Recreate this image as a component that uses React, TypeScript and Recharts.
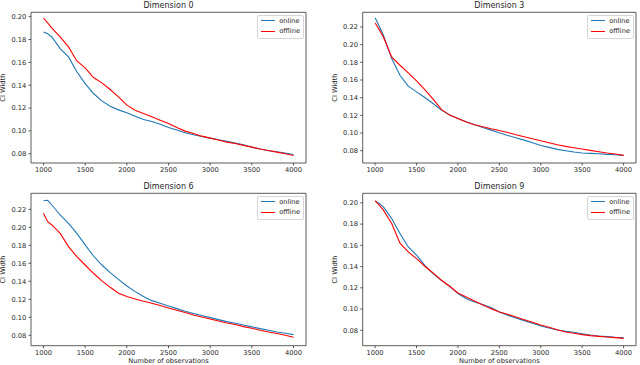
import React from 'react';
import { LineChart, Line, XAxis, YAxis, Legend, ReferenceArea, Label } from 'recharts';

// number of observations (x positions of the sampled points)
const observations = [
  1000, 1050, 1100, 1200, 1300, 1400, 1500, 1600, 1700, 1800, 1900, 2000, 2100, 2200, 2300, 2400,
  2500, 2600, 2700, 2800, 2900, 3000, 3100, 3200, 3300, 3400, 3500, 3600, 3700, 3800, 3900, 4000,
];
const xTicks = [1000, 1500, 2000, 2500, 3000, 3500, 4000];
const seriesNames = ['online', 'offline'];

const dim0Online = [
  0.1866, 0.1851, 0.1822, 0.172, 0.1648, 0.1517, 0.1414, 0.1327, 0.1263, 0.1216, 0.1184, 0.1158, 0.1129, 0.11, 0.1082, 0.1059,
  0.103, 0.1007, 0.0983, 0.0966, 0.0951, 0.0937, 0.0922, 0.0908, 0.0893, 0.0879, 0.0858, 0.0841, 0.0826, 0.0817, 0.0806, 0.0794,
];
const dim0Offline = [
  0.1988, 0.1945, 0.19, 0.1822, 0.1735, 0.1612, 0.1551, 0.1467, 0.142, 0.1362, 0.1298, 0.1225, 0.1181, 0.1152, 0.1123, 0.1094,
  0.1065, 0.103, 0.0998, 0.0978, 0.0954, 0.0937, 0.092, 0.0902, 0.089, 0.0873, 0.0858, 0.0841, 0.0829, 0.0814, 0.08, 0.0785,
];
const dim3Online = [
  0.2305, 0.2208, 0.2106, 0.1842, 0.1654, 0.153, 0.1466, 0.1402, 0.1334, 0.1259, 0.1203, 0.1165, 0.1127, 0.1093, 0.1063, 0.1033,
  0.1003, 0.0973, 0.0947, 0.092, 0.089, 0.086, 0.0838, 0.0815, 0.08, 0.0785, 0.0774, 0.077, 0.0766, 0.0759, 0.0755, 0.0747,
];
const dim3Offline = [
  0.2245, 0.217, 0.2087, 0.1861, 0.1767, 0.1681, 0.159, 0.1492, 0.1383, 0.1267, 0.1203, 0.1165, 0.1124, 0.1093, 0.1071, 0.1048,
  0.1029, 0.1007, 0.0981, 0.0958, 0.0935, 0.0913, 0.089, 0.0868, 0.0849, 0.0834, 0.0819, 0.0804, 0.0789, 0.0774, 0.0762, 0.0747,
];
const dim6Online = [
  0.2296, 0.23, 0.2248, 0.2137, 0.2044, 0.1933, 0.1804, 0.1681, 0.1581, 0.1496, 0.1422, 0.1348, 0.1285, 0.123, 0.1185, 0.1156,
  0.1126, 0.1096, 0.1067, 0.1041, 0.1019, 0.0996, 0.0974, 0.0952, 0.0933, 0.0915, 0.0893, 0.0874, 0.0856, 0.0837, 0.0822, 0.0807,
];
const dim6Offline = [
  0.2156, 0.2063, 0.2026, 0.1933, 0.1785, 0.1674, 0.1581, 0.1489, 0.1404, 0.1333, 0.1267, 0.123, 0.1204, 0.1178, 0.1156, 0.113,
  0.1104, 0.1078, 0.1052, 0.1026, 0.1004, 0.0981, 0.0959, 0.0937, 0.0919, 0.0896, 0.0878, 0.0856, 0.0837, 0.0819, 0.08, 0.0778,
];
const dim9Online = [
  0.2019, 0.1994, 0.1962, 0.1852, 0.1711, 0.1585, 0.1507, 0.1412, 0.1334, 0.1271, 0.1215, 0.1146, 0.1098, 0.1067, 0.1042, 0.1014,
  0.0973, 0.0941, 0.0916, 0.0891, 0.0866, 0.0841, 0.0822, 0.0803, 0.079, 0.0781, 0.0768, 0.0756, 0.0746, 0.074, 0.0734, 0.0731,
];
const dim9Offline = [
  0.2019, 0.1978, 0.1931, 0.1805, 0.162, 0.1538, 0.1475, 0.1403, 0.134, 0.1271, 0.1215, 0.1152, 0.1114, 0.1076, 0.1039, 0.1004,
  0.0973, 0.0951, 0.0926, 0.09, 0.0875, 0.085, 0.0828, 0.0806, 0.0784, 0.0772, 0.0759, 0.075, 0.0743, 0.0737, 0.0731, 0.0724,
];

const ticks8to20 = [0.08, 0.1, 0.12, 0.14, 0.16, 0.18, 0.2];
const ticks8to22 = [0.08, 0.1, 0.12, 0.14, 0.16, 0.18, 0.2, 0.22];

const FONT = '"DejaVu Sans", sans-serif';
const TEXT = '#262626';
const BLUE = '#1f77b4';
const RED = '#ff0000';
const seriesColors: Record<string, string> = { online: BLUE, offline: RED };

// matplotlib-style legend box, kept in series order
const LegendBox = () => (
  <div
    style={{
      width: 47,
      height: 24,
      boxSizing: 'border-box',
      border: '1px solid #d6d6d6',
      borderRadius: 2,
      background: 'rgba(255,255,255,0.8)',
      fontFamily: FONT,
      fontSize: 6.7,
      color: TEXT,
    }}
  >
    {seriesNames.map((name) => (
      <div key={name} style={{ display: 'flex', alignItems: 'center', height: 10.6 }}>
        <div style={{ marginLeft: 2.4, width: 14, height: 1.1, background: seriesColors[name] }} />
        <span style={{ marginLeft: 4.6, lineHeight: '10.6px', color: TEXT }}>{name}</span>
      </div>
    ))}
  </div>
);

type PanelProps = {
  title: string;
  online: number[];
  offline: number[];
  yDomain: [number, number];
  yTicks: number[];
  left: number;
  top: number;
  height: number;
  axisWidth: number;
  marginTop: number;
  marginRight: number;
  xAxisHeight: number;
  yLabelX: number;
  showXLabel: boolean;
};

function Panel(p: PanelProps) {
  const width = 320;
  const data = observations.map((n, i) => ({ n, online: p.online[i], offline: p.offline[i] }));
  const plotLeft = p.axisWidth;
  const plotRight = width - p.marginRight;
  const plotCenter = (plotLeft + plotRight) / 2;

  const yLabel = (props: any) => {
    const vb = props.viewBox || {};
    const cy = vb.y + vb.height / 2;
    return (
      <text
        x={p.yLabelX}
        y={cy}
        transform={`rotate(-90 ${p.yLabelX} ${cy})`}
        textAnchor="middle"
        dominantBaseline="central"
        fontSize={6.7}
        fontFamily={FONT}
        fill={TEXT}
      >
        CI Width
      </text>
    );
  };

  const xLabel = () => (
    <text
      x={plotCenter}
      y={p.height - 3.6}
      textAnchor="middle"
      dominantBaseline="central"
      fontSize={6.7}
      fontFamily={FONT}
      fill={TEXT}
    >
      Number of observations
    </text>
  );

  return (
    <div style={{ position: 'absolute', left: p.left, top: p.top, width, height: p.height }}>
      <div
        style={{
          position: 'absolute',
          left: plotLeft,
          width: plotRight - plotLeft,
          top: p.marginTop - 11.5,
          textAlign: 'center',
          fontFamily: FONT,
          fontSize: 8,
          lineHeight: '9px',
          color: TEXT,
        }}
      >
        {p.title}
      </div>
      <LineChart
        width={width}
        height={p.height}
        data={data}
        margin={{ top: p.marginTop, right: p.marginRight, bottom: 0, left: 0 }}
      >
        <XAxis
          dataKey="n"
          type="number"
          domain={[850, 4150]}
          ticks={xTicks}
          interval={0}
          height={p.xAxisHeight}
          axisLine={false}
          tickSize={2.5}
          tickMargin={2.2}
          tickLine={{ stroke: '#333', strokeWidth: 0.8 }}
          tick={{ fontSize: 6.7, fill: TEXT, fontFamily: FONT }}
          label={p.showXLabel ? <Label content={xLabel} /> : undefined}
        />
        <YAxis
          type="number"
          domain={p.yDomain}
          ticks={p.yTicks}
          interval={0}
          width={p.axisWidth}
          axisLine={false}
          tickSize={2.5}
          tickMargin={2.2}
          tickLine={{ stroke: '#333', strokeWidth: 0.8 }}
          tick={{ fontSize: 6.7, fill: TEXT, fontFamily: FONT }}
          tickFormatter={(v: number) => v.toFixed(2)}
          label={<Label content={yLabel} />}
        />
        <ReferenceArea
          x1={850}
          x2={4150}
          y1={p.yDomain[0]}
          y2={p.yDomain[1]}
          fill="none"
          stroke="#333"
          strokeWidth={0.8}
          ifOverflow="visible"
        />
        <Line dataKey="online" name="online" type="linear" stroke={BLUE} strokeWidth={1.1} dot={false} isAnimationActive={false} />
        <Line dataKey="offline" name="offline" type="linear" stroke={RED} strokeWidth={1.1} dot={false} isAnimationActive={false} />
        <Legend
          layout="vertical"
          align="center"
          verticalAlign="middle"
          content={<LegendBox />}
          wrapperStyle={{ left: plotRight - 1.7 - 47, top: p.marginTop + 2.3, width: 47, height: 24 }}
        />
      </LineChart>
    </div>
  );
}

export default function App() {
  return (
    <div
      style={{
        position: 'absolute',
        left: 0,
        top: 0,
        width: 640,
        height: 365,
        background: '#fff',
        overflow: 'hidden',
      }}
    >
      <Panel
        title="Dimension 0"
        online={dim0Online}
        offline={dim0Offline}
        yDomain={[0.0719, 0.2038]}
        yTicks={ticks8to20}
        left={0}
        top={0}
        height={180}
        axisWidth={31}
        marginTop={12.3}
        marginRight={14}
        xAxisHeight={17}
        yLabelX={3.3}
        showXLabel={false}
      />
      <Panel
        title="Dimension 3"
        online={dim3Online}
        offline={dim3Offline}
        yDomain={[0.0661, 0.2366]}
        yTicks={ticks8to22}
        left={320}
        top={0}
        height={180}
        axisWidth={42.7}
        marginTop={12.3}
        marginRight={4}
        xAxisHeight={17}
        yLabelX={15}
        showXLabel={false}
      />
      <Panel
        title="Dimension 6"
        online={dim6Online}
        offline={dim6Offline}
        yDomain={[0.0684, 0.2378]}
        yTicks={ticks8to22}
        left={0}
        top={180}
        height={185}
        axisWidth={31}
        marginTop={13.3}
        marginRight={14}
        xAxisHeight={19.3}
        yLabelX={3.3}
        showXLabel={true}
      />
      <Panel
        title="Dimension 9"
        online={dim9Online}
        offline={dim9Offline}
        yDomain={[0.0655, 0.209]}
        yTicks={ticks8to20}
        left={320}
        top={180}
        height={185}
        axisWidth={42.7}
        marginTop={13.3}
        marginRight={4}
        xAxisHeight={19.3}
        yLabelX={15}
        showXLabel={true}
      />
    </div>
  );
}
